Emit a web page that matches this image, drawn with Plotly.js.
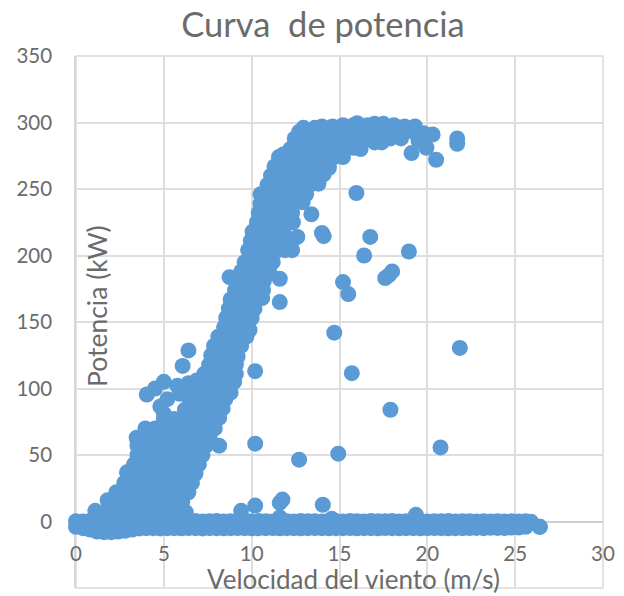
<!DOCTYPE html>
<html><head><meta charset="utf-8">
<script src="https://cdn.plot.ly/plotly-3.0.1.min.js"></script>
<style>html,body{margin:0;padding:0;background:#fff}</style></head>
<body><div id="chart" style="width:624px;height:596px"></div>
<script>
const chartTitle = "Curva  de potencia";
const xLabel = "Velocidad del viento (m/s)";
const yLabel = "Potencia (kW)";
const xTicks = [0,5,10,15,20,25,30];
const yTicks = [-50,0,50,100,150,200,250,300,350];

// [wind m/s, power kW]
const idleBandTop = [[0,0.2],[0.4,0],[0.8,0.3],[1.2,0],[1.6,0.2],[2,0],[2.4,0.3],[2.8,0.1],[3.2,0],[3.6,0.3],[4,0.1],[4.4,0],[4.8,0.2],[5.2,0.3],[5.6,0],[6,0.2],[6.4,0.1],[6.8,0.3],[7.2,0],[7.6,0.2],[8,0.3],[8.4,0],[8.8,0.1],[9.2,0.3],[9.6,0],[10,0.2],[10.4,0.3],[10.8,0.1],[11.2,0],[11.6,0.3],[12,0.2],[12.4,0],[12.8,0.3],[13.2,0.1],[13.6,0.2],[14,0],[14.4,0.3],[14.8,0.1],[15.2,0],[15.6,0.3],[16,0.2],[16.4,0],[16.8,0.3],[17.2,0.1],[17.6,0.2],[18,0.3],[18.4,0],[18.8,0.2],[19.2,0.1],[19.6,0.3],[20,0],[20.4,0.2],[20.8,0.1],[21.2,0.3],[21.6,0],[22,0.2],[22.4,0.1],[22.8,0],[23.2,0.2],[23.6,0],[24,0.2],[24.4,0],[24.8,0.1],[25.2,0],[25.6,0.1],[25.9,-0.2]];
const idleBandLow = [[0,-4],[0.4,-5],[0.8,-6],[1.2,-7.5],[1.6,-8],[2,-8],[2.4,-7.5],[2.8,-7],[3.2,-6],[3.6,-5.2],[4,-5],[4.4,-5],[4.8,-5.2],[5.2,-5],[5.6,-5],[6,-5.1],[6.4,-4.9],[6.8,-5],[7.2,-5.2],[7.6,-5],[8,-5],[8.4,-5.1],[8.8,-5],[9.2,-4.9],[9.6,-5],[10,-5.1],[10.4,-5],[10.8,-5],[11.2,-4.9],[11.6,-5.1],[12,-5],[12.4,-5],[12.8,-5.1],[13.2,-5],[13.6,-4.9],[14,-5],[14.4,-5.1],[14.8,-5],[15.2,-5],[15.6,-4.9],[16,-5.1],[16.4,-5],[16.8,-5],[17.2,-5.1],[17.6,-4.9],[18,-5],[18.4,-5.1],[18.8,-5],[19.2,-5],[19.6,-5.1],[20,-5],[20.4,-4.9],[20.8,-5],[21.2,-5.1],[21.6,-5],[22,-5],[22.4,-4.9],[22.8,-4.8],[23.2,-5],[23.6,-4.7],[24,-4.8],[24.4,-4.9],[24.8,-4.6],[25.2,-4.5],[25.6,-4],[26.4,-4]];
const lowCloud = [
[1.1,8],[1.7,8],[2.3,8],[2.9,8],[3.5,8],[4.1,8],[4.7,8],[5.3,8],[5.8,7],[6.25,7],
[1.8,16],[2.4,15],[3,15],[3.6,15],[4.2,15],[4.8,15],[5.4,15],[6.05,15],
[2.3,22],[2.9,22],[3.5,22],[4.1,22],[4.7,22],[5.3,22],[5.9,22],[6.4,22],
[2.75,29],[3.3,29],[3.9,29],[4.5,29],[5.1,29],[5.7,29],[6.2,29],[6.6,29],
[2.9,37],[3.5,36],[4.1,36],[4.7,36],[5.3,36],[5.9,36],[6.4,36],[6.8,36],
[3.3,43],[3.9,43],[4.5,43],[5.1,43],[5.7,43],[6.3,43],[7,43],
[3.5,50],[4.1,50],[4.7,50],[5.3,50],[5.9,50],[6.5,50],[7.2,50],
[3.5,57],[4.1,57],[4.7,57],[5.3,57],[5.9,57],[6.5,57],[7.0,57],[7.4,57],
[3.45,63],[4,63],[4.6,63],[5.2,63],[5.8,63],[6.4,63],[7,63],[7.6,63],
[3.95,70],[4.5,70],[5.1,70],[5.7,70],[6.3,70],[6.9,70],[7.9,70],[7.4,70],
[5.0,77],[5.6,77],[6.2,77],[6.8,77],[7.4,77],[8.15,78],
[5,81],[4.8,86.5],[6.2,84],[6.8,84],[7.4,84],[7.9,84],[8.35,85],
[6.5,91],[7.1,91],[7.7,91],[8.1,91],[8.5,92],
[5.9,96],[6.4,97],[7,97],[7.6,97],[8.2,97],[8.8,97],
[5.77,102],[5,105],[4.5,100],[4.03,95.5],[5.2,92],[6.4,104],[6.87,106],[7.4,104],[8,104],[8.5,104],[9,105],
[7.3,111],[7.9,111],[8.5,111],[9.1,111]
];
const riseCloud = [
[7.58,118],[8.1,118],[8.6,118],[9.1,118],
[7.7,125],[8.2,125],[8.7,125],[9.2,124],
[7.86,132],[8.4,132],[8.9,132],[9.4,132],
[8.1,139],[8.6,139],[9.2,139],[9.7,139],
[8.43,146],[8.9,146],[9.4,146],[9.88,144],
[8.55,153],[9.1,153],[9.6,153],[10,153],
[8.7,160],[9.2,160],[9.7,160],[10.16,160],
[8.8,167],[9.4,167],[10,167],[10.6,168],
[9.05,174],[9.6,174],[10.1,174],[10.65,174],
[8.74,183.7],[9.3,181],[9.8,181],[10.3,181],[10.7,181],
[9.4,188],[9.9,188],[10.5,188],[11,188],
[9.6,195],[10.1,195],[10.7,195],[11.2,195],
[9.8,204],[10.3,204],[10.9,204],[11.5,204],[11.9,204],[12.3,204],
[9.95,211],[10.5,211],[11.1,211],[11.7,211],[12.3,211],
[10.05,218],[10.6,218],[11.2,218],[11.8,218],[12.6,214],
[10.3,225],[10.8,225],[11.4,225],[12,225],[12.35,225],
[10.4,232],[11,232],[11.6,232],[12.3,232],
[10.5,239],[11.1,239],[11.7,239],[12.3,239],[12.9,240],
[10.5,246],[11.1,246],[11.7,246],[12.4,246],[13.1,246],
[10.9,253],[11.5,253],[12.1,253],[12.7,253],[13.3,253],[13.8,254],
[11.1,260],[11.7,260],[12.3,260],[12.9,260],[13.5,260],[14.1,261],
[11.3,267],[11.9,267],[12.5,267],[13.1,267],[13.7,267],[14.4,266]
];
const plateauCloud = [
[11.55,274],[11.8,276],[12.4,274],[13,274],[13.6,274],[14.2,274],[15.2,274],[14.7,274],
[12.2,280],[12.8,281],[13.4,281],[14,281],[14.6,281],[15.2,281],[15.8,281],[16.2,280],
[12.45,288],[13,288],[13.6,288],[14.2,288],[14.8,288],[15.4,288],[16,288],[16.6,288],[17,285],[17.4,285],[17.9,288],[18.5,288],
[12.7,293],[13.3,293],[13.9,293],[14.5,293],[15.1,293],[15.7,293],[16.3,293],[16.9,293],[17.5,293],[18.1,293],[18.7,293],[19.3,292],[19.8,292],
[12.95,296],[13.6,296],[14,297],[14.6,297],[15.2,298],[15.8,298],[16,299.5],[16.6,298],[17,299],[17.5,299],[18.1,298],[18.7,297],[19.3,297],[20.3,291],[19.95,281],[19.5,286]
];
const strayPoints = [
[6.07,117],[6.4,128.6],[8.15,57],[10.2,113],[11.6,182.5],[11.6,165],[13.4,231],[14,217],[14.1,214.5],
[15.96,247],[16.75,214],[16.4,200],[18.95,203],[18,188],[17.8,185],[17.6,183],[15.2,180],[15.5,171],
[14.7,142],[15.7,111.5],[17.9,84],[20.75,55.7],[21.85,130.5],[10.2,58.5],[12.7,46.5],[14.93,51],
[10.2,12],[11.6,14],[11.75,16.5],[9.4,8],[14.05,12.6],[19.35,5],[14.56,2],[11.6,3],
[19.1,277],[20.5,272],[21.7,288],[21.7,284],[26.4,-4]
];

const allPoints = [...idleBandTop,...idleBandLow,...lowCloud,...riseCloud,...plateauCloud,...strayPoints];
const blue = "#5b9bd5", grey = "#6b6b6b", gridC = "#dedede", font = "Lato, Carlito, sans-serif";

Plotly.newPlot("chart",[{
  type:"scatter",mode:"markers",cliponaxis:false,
  x:allPoints.map(p=>p[0]),y:allPoints.map(p=>p[1]),
  marker:{color:blue,size:16,opacity:1,line:{width:0,color:blue}},hoverinfo:"x+y"
}],{
  width:624,height:596,showlegend:false,
  paper_bgcolor:"#fff",plot_bgcolor:"#fff",
  margin:{l:76,r:21,t:56,b:8,pad:0},
  font:{family:font,color:grey,size:21},
  title:{text:chartTitle,font:{family:font,size:34.5,color:grey},x:323/624,xanchor:"center",y:1-25/596,yanchor:"middle"},
  shapes:[{type:"rect",xref:"paper",yref:"paper",x0:0,x1:1,y0:0,y1:1,layer:"below",line:{color:"#dadada",width:1.5},fillcolor:"rgba(0,0,0,0)"}],
  xaxis:{range:[0,30],tickvals:xTicks,ticktext:xTicks.map(String),anchor:"free",position:0.125,layer:"below traces",
    showgrid:true,gridcolor:gridC,gridwidth:1.5,showline:true,linecolor:"#cfcfcf",linewidth:1.5,
    zeroline:false,ticks:"",ticklabelstandoff:14,tickfont:{family:font,size:20.5,color:grey}},
  yaxis:{range:[-50,350],tickvals:yTicks,ticktext:yTicks.map(String),layer:"below traces",
    showgrid:true,gridcolor:gridC,gridwidth:1.5,showline:true,linecolor:"#d6d6d6",linewidth:1.5,
    zeroline:false,ticks:"",ticklabelstandoff:18,tickfont:{family:font,size:20.5,color:grey}},
  annotations:[
    {text:xLabel,xref:"paper",yref:"paper",x:(353-76)/527,y:(588-595.5)/532,xanchor:"center",yanchor:"bottom",borderpad:0,showarrow:false,font:{family:font,size:26,color:grey}},
    {text:yLabel,textangle:-90,xref:"paper",yref:"paper",x:(97-76)/527,y:(588-306)/532,xanchor:"center",yanchor:"middle",showarrow:false,font:{family:font,size:26.5,color:grey}}
  ]
},{displayModeBar:false});
</script></body></html>
